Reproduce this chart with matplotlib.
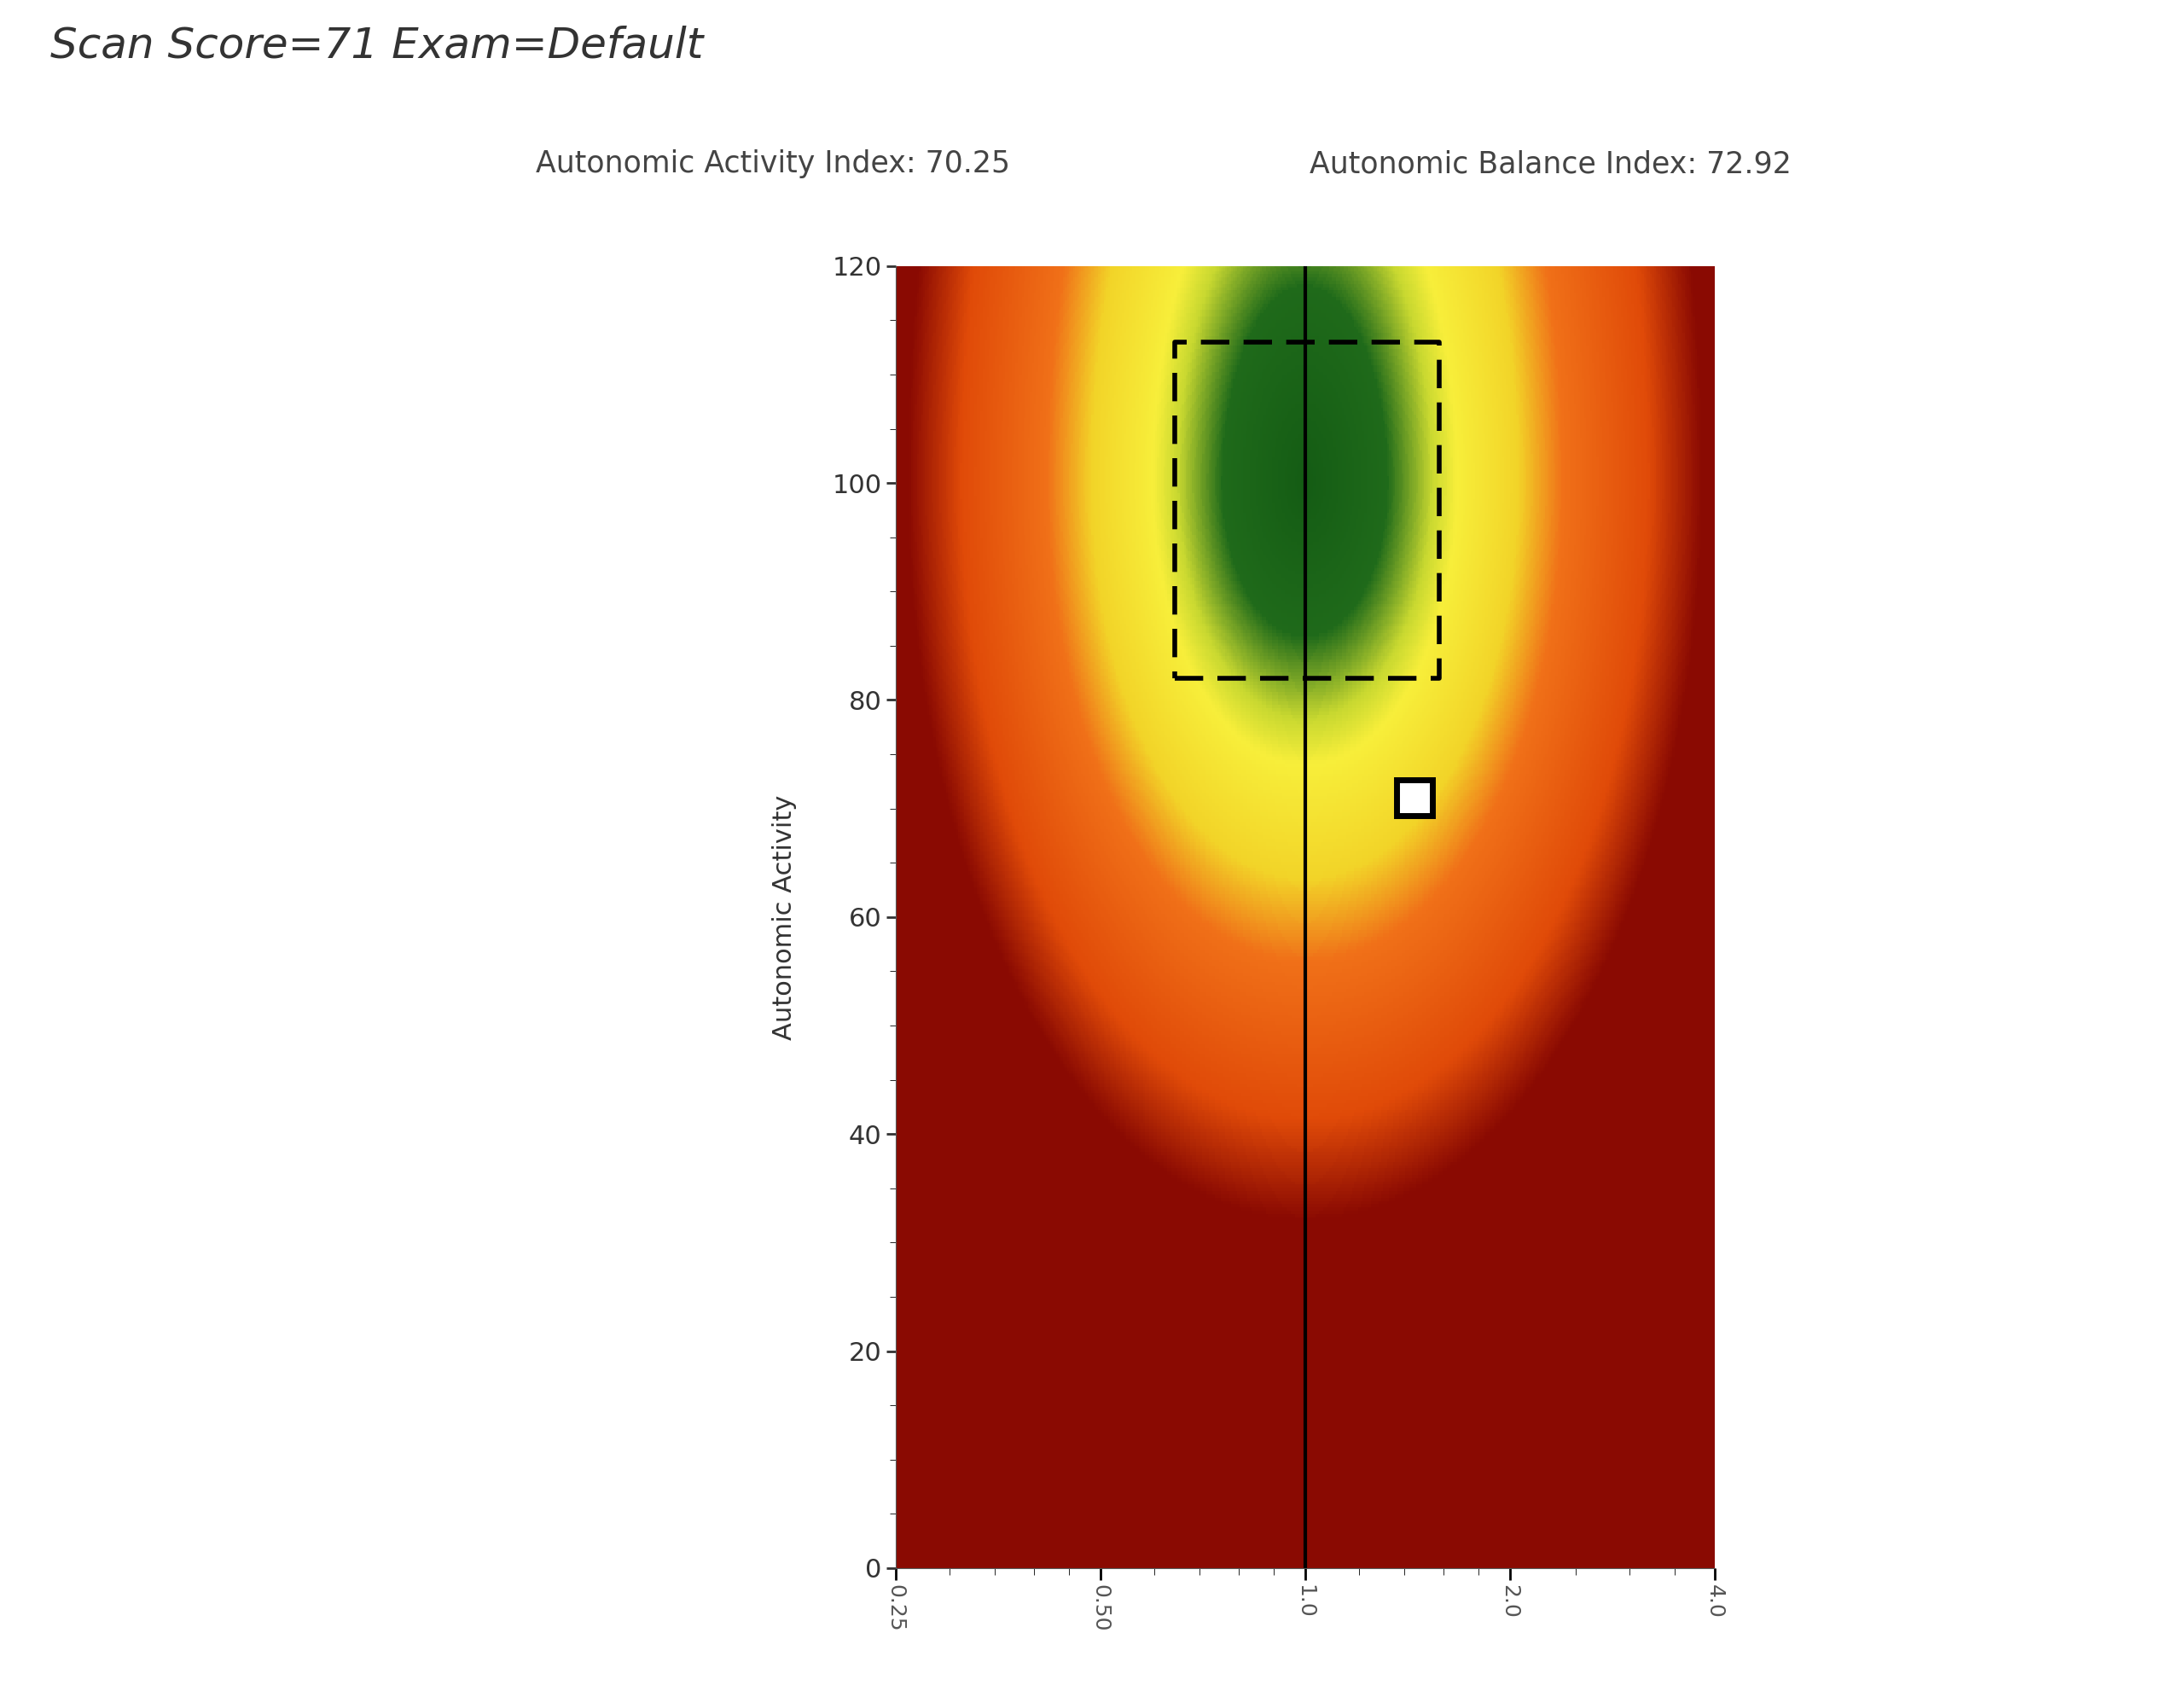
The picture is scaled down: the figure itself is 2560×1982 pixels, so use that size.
import numpy as np
import matplotlib
matplotlib.use("Agg")
import matplotlib.pyplot as plt
from matplotlib.colors import LinearSegmentedColormap

title = "Scan Score=71 Exam=Default"
activity_index = 70.25
balance_index = 72.92
xticks = [0.25, 0.5, 1.0, 2.0, 4.0]
xticklabels = ["0.25", "0.50", "1.0", "2.0", "4.0"]
yticks = [0, 20, 40, 60, 80, 100, 120]
box_x = [0.644, 1.575]
box_y = [82, 113]
point_x = [1.45]
point_y = [71]

fig = plt.figure(figsize=(25.6, 19.82), dpi=100)
ax = fig.add_axes([0.41, 0.0727, 0.375, 0.77])

lx = np.linspace(-2, 2, 400)
yy = np.linspace(0, 120, 400)
LX, YY = np.meshgrid(lx, yy)
dx = LX / 2.0
dy = np.where(YY >= 100, (YY - 100) / 90.0, (YY - 100) / 70.0)
d = np.sqrt(dx**2 + dy**2)
cmap = LinearSegmentedColormap.from_list("s", [
    (0.0, "#145c14"), (0.2, "#1f6a1a"), (0.31, "#c8d830"), (0.37, "#f7ee3a"),
    (0.52, "#f2d428"), (0.63, "#f07018"), (0.84, "#e04a08"), (0.97, "#8a0a02"), (1.0, "#8a0a02")])
ax.pcolormesh(2.0**LX, YY, np.clip(d, 0, 1), cmap=cmap, vmin=0, vmax=1, shading="auto")
ax.set_xscale("log")
ax.set_xlim(0.25, 4)
ax.set_ylim(0, 120)
ax.axvline(1.0, color="black", lw=3)
ax.plot([box_x[0], box_x[1], box_x[1], box_x[0], box_x[0]],
        [box_y[0], box_y[0], box_y[1], box_y[1], box_y[0]],
        color="black", lw=4, ls=(0, (6, 3)))
ax.plot(point_x, point_y, "s", ms=30, mfc="white", mec="black", mew=5)

ax.set_xticks(xticks)
ax.set_xticklabels(xticklabels, rotation=-90, fontsize=18, color="#555555")
ax.set_xticks([0.3, 0.35, 0.4, 0.45, 0.6, 0.7, 0.8, 0.9, 1.2, 1.4, 1.6, 1.8, 2.5, 3.0, 3.5], minor=True)
ax.xaxis.set_minor_formatter(matplotlib.ticker.NullFormatter())
ax.set_yticks(yticks)
ax.set_yticks(np.arange(0, 121, 5), minor=True)
ax.tick_params(axis="y", labelsize=22, colors="#333333", length=8, width=2)
ax.tick_params(axis="y", which="minor", length=5)
ax.tick_params(axis="x", length=10, width=2, labelcolor="#555555")
ax.tick_params(axis="x", which="minor", length=6)
for s in ["top", "right"]:
    ax.spines[s].set_visible(False)
ax.spines["left"].set_color("#555555")
ax.spines["bottom"].set_color("#555555")
ax.set_ylabel("Autonomic Activity", fontsize=22, color="#333333", labelpad=30)

fig.text(0.023, 0.973, title, fontsize=36, style="italic", color="#333333", va="center")
fig.text(0.354, 0.903, f"Autonomic Activity Index: {activity_index}", fontsize=25,
         color="#444444", ha="center", va="center")
fig.text(0.71, 0.903, f"Autonomic Balance Index: {balance_index}", fontsize=25,
         color="#444444", ha="center", va="center")
fig.savefig("out.png", dpi=100)
